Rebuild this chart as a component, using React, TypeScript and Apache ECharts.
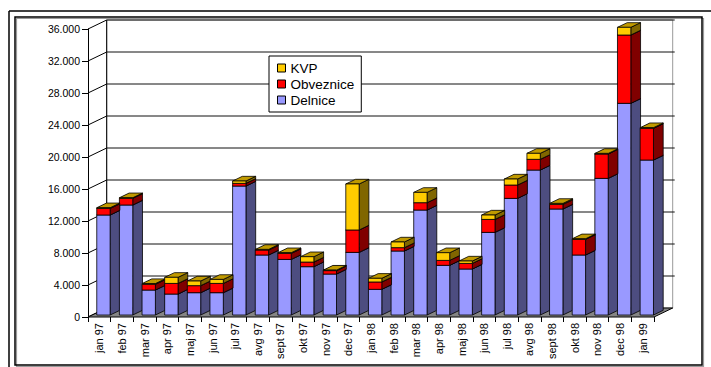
import React, { useEffect, useRef } from "react";
import * as echarts from "echarts";

// Monthly volume by instrument type
const categories = [
  "jan 97", "feb 97", "mar 97", "apr 97", "maj 97", "jun 97", "jul 97", "avg 97",
  "sept 97", "okt 97", "nov 97", "dec 97", "jan 98", "feb 98", "mar 98", "apr 98",
  "maj 98", "jun 98", "jul 98", "avg 98", "sept 98", "okt 98", "nov 98", "dec 98", "jan 99",
];

const delnice = [
  12500, 13750, 3120, 2620, 2790, 2790, 16120, 7500, 6950, 6040, 5120, 7830, 3210,
  8000, 13120, 6210, 5750, 10330, 14580, 18120, 13250, 7500, 17080, 26460, 19370,
];
const obveznice = [
  830, 830, 730, 1330, 880, 1160, 340, 620, 760, 580, 430, 2800, 920,
  420, 920, 620, 700, 1620, 1670, 1340, 580, 1950, 3040, 8540, 3970,
];
const kvp = [
  80, 80, 80, 760, 580, 500, 290, 80, 80, 670, 60, 5750, 460,
  710, 1290, 960, 300, 550, 750, 750, 120, 80, 80, 960, 80,
];

const yTicks = [0, 4000, 8000, 12000, 16000, 20000, 24000, 28000, 32000, 36000];

const FONT = "'Liberation Sans', Arial, Helvetica, sans-serif";

// 3D projection constants (pixels)
const WALL_DX = 18.7;
const WALL_DY = -9;
const BAR_FRONT = 0.22; // fraction of the depth where the bar front face sits
const BAR_DEPTH = 0.52; // fraction of the depth the bar occupies
const BAR_WIDTH = 0.59; // fraction of the category band

type Shade = { front: string; side: string; top: string };
const SHADES: Record<string, Shade> = {
  Delnice: { front: "#9999FF", side: "#4D4D80", top: "#7A7ACC" },
  Obveznice: { front: "#FF0000", side: "#800000", top: "#C00000" },
  KVP: { front: "#FFCC00", side: "#806600", top: "#C09A00" },
};

function fmt(v: number): string {
  if (v === 0) return "0";
  const s = String(v);
  return s.slice(0, s.length - 3) + "." + s.slice(s.length - 3);
}

function stackData(parts: number[][], level: number): number[][] {
  return categories.map((_, i) => {
    let lo = 0;
    for (let k = 0; k < level; k++) lo += parts[k][i];
    return [i, lo, lo + parts[level][i]];
  });
}

function segmentRenderer(name: string) {
  const shade = SHADES[name];
  return (params: any, api: any) => {
    const i = api.value(0);
    const lo = api.value(1);
    const hi = api.value(2);
    const pLo = api.coord([i, lo]);
    const pHi = api.coord([i, hi]);
    const bw = api.size([1, 0])[0];
    const w = bw * BAR_WIDTH;
    const fx = BAR_FRONT * WALL_DX;
    const fy = BAR_FRONT * WALL_DY;
    const sx = BAR_DEPTH * WALL_DX;
    const sy = BAR_DEPTH * WALL_DY;
    const x0 = pLo[0] + fx - w / 2;
    const x1 = x0 + w;
    const yb = pLo[1] + fy;
    const yt = pHi[1] + fy;
    const edge = { stroke: "#000", lineWidth: 0.8, lineJoin: "round" };
    return {
      type: "group",
      children: [
        {
          type: "polygon",
          shape: { points: [[x1, yb], [x1 + sx, yb + sy], [x1 + sx, yt + sy], [x1, yt]] },
          style: { fill: shade.side, ...edge },
        },
        {
          type: "polygon",
          shape: { points: [[x0, yt], [x1, yt], [x1 + sx, yt + sy], [x0 + sx, yt + sy]] },
          style: { fill: shade.top, ...edge },
        },
        {
          type: "rect",
          shape: { x: x0, y: yt, width: w, height: yb - yt },
          style: { fill: shade.front, ...edge },
        },
      ],
    };
  };
}

// Back wall, left wall and floor of the 3D plot box
function frameRenderer(params: any, api: any) {
  const n = categories.length;
  const bw = api.size([1, 0])[0];
  const left = api.coord([0, 0])[0] - bw / 2;
  const right = api.coord([n - 1, 0])[0] + bw / 2;
  const y0 = api.coord([0, 0])[1];
  const yMax = api.coord([0, yTicks[yTicks.length - 1]])[1];
  const children: any[] = [];
  // back wall
  children.push({
    type: "rect",
    shape: { x: left + WALL_DX, y: yMax + WALL_DY, width: right - left, height: y0 - yMax },
    style: { fill: "#fff", stroke: "#999", lineWidth: 1 },
  });
  yTicks.forEach((v) => {
    const y = api.coord([0, v])[1];
    if (v > 0) {
      children.push({
        type: "line",
        shape: { x1: left + WALL_DX, y1: y + WALL_DY, x2: right + WALL_DX + 2, y2: y + WALL_DY },
        style: { stroke: "#111", lineWidth: 1 },
      });
    }
    children.push({
      type: "line",
      shape: { x1: left, y1: y, x2: left + WALL_DX, y2: y + WALL_DY },
      style: { stroke: "#000", lineWidth: 1 },
    });
  });
  children.push({
    type: "line",
    shape: { x1: left + WALL_DX, y1: yMax + WALL_DY, x2: left + WALL_DX, y2: y0 + WALL_DY },
    style: { stroke: "#000", lineWidth: 1 },
  });
  // floor
  children.push({
    type: "polygon",
    shape: {
      points: [
        [left, y0],
        [right, y0],
        [right + WALL_DX, y0 + WALL_DY],
        [left + WALL_DX, y0 + WALL_DY],
      ],
    },
    style: { fill: "#858585", stroke: "#000", lineWidth: 1 },
  });
  return { type: "group", children };
}

export default function App() {
  const ref = useRef<HTMLDivElement>(null);

  useEffect(() => {
    if (!ref.current) return;
    const chart = echarts.init(ref.current, undefined, { renderer: "svg" });
    const parts = [delnice, obveznice, kvp];
    const names = ["Delnice", "Obveznice", "KVP"];

    const segSeries = names.map((name, level) => ({
      type: "custom",
      name,
      z: 3,
      renderItem: segmentRenderer(name),
      itemStyle: { color: SHADES[name].front },
      encode: { x: 0, y: [1, 2] },
      data: stackData(parts, level),
    }));

    chart.setOption({
      animation: false,
      textStyle: { fontFamily: FONT },
      grid: { left: 88, top: 29, width: 566, height: 288, containLabel: false },
      legend: {
        orient: "vertical",
        left: 269,
        top: 56,
        data: ["KVP", "Obveznice", "Delnice"],
        icon: "rect",
        itemWidth: 8,
        itemHeight: 8,
        itemGap: 0,
        padding: [4, 7, 4, 8],
        backgroundColor: "#fff",
        borderColor: "#000",
        borderWidth: 1,
        itemStyle: { borderColor: "#000", borderWidth: 1 },
        textStyle: { fontFamily: FONT, fontSize: 13.5, color: "#000", lineHeight: 16 },
        selectedMode: false,
      },
      xAxis: {
        type: "category",
        data: categories,
        boundaryGap: true,
        axisLine: { show: false },
        axisTick: { show: true, length: 5, lineStyle: { color: "#000" } },
        axisLabel: {
          rotate: 90,
          fontSize: 11,
          color: "#000",
          fontFamily: FONT,
          margin: 6,
          interval: 0,
        },
        splitLine: { show: false },
      },
      yAxis: {
        type: "value",
        min: 0,
        max: 36000,
        interval: 4000,
        axisLine: { show: true, lineStyle: { color: "#000" } },
        axisTick: { show: true, length: 6, lineStyle: { color: "#000" } },
        axisLabel: {
          fontSize: 10.5,
          color: "#000",
          fontFamily: FONT,
          margin: 8,
          formatter: (v: number) => fmt(v),
        },
        splitLine: { show: false },
      },
      graphic: [
        { type: "line", shape: { x1: 9, y1: 11, x2: 711, y2: 11 }, style: { stroke: "#000", lineWidth: 1.5 } },
        { type: "line", shape: { x1: 9, y1: 11, x2: 9, y2: 367 }, style: { stroke: "#000", lineWidth: 1.5 } },
        {
          type: "rect",
          shape: { x: 16.5, y: 18.5, width: 687, height: 348 },
          style: { fill: "none", stroke: "#9a9a9a", lineWidth: 1.2 },
        },
        {
          type: "rect",
          shape: { x: 15, y: 17, width: 687, height: 348 },
          style: { fill: "none", stroke: "#000", lineWidth: 1.5 },
        },
        {
          type: "rect",
          shape: { x: 271, y: 58, width: 93, height: 56 },
          style: { fill: "#9a9a9a" },
        },
      ],
      series: [
        {
          type: "custom",
          name: "frame",
          z: 1,
          silent: true,
          renderItem: frameRenderer,
          data: [[0, 0]],
          encode: { x: 0, y: 1 },
        },
        ...segSeries,
      ],
    });
    return () => chart.dispose();
  }, []);

  return (
    <div
      ref={ref}
      style={{ position: "fixed", left: 0, top: 0, width: 711, height: 367, background: "#fff" }}
    />
  );
}
